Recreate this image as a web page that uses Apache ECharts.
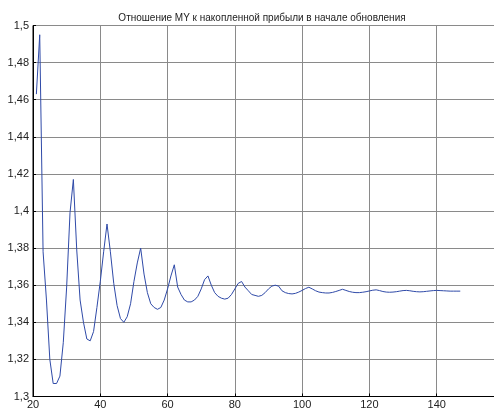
<!DOCTYPE html>
<html>
<head>
<meta charset="utf-8">
<script src="https://cdn.jsdelivr.net/npm/echarts@6/dist/echarts.min.js"></script>
<style>html,body{margin:0;padding:0;background:#fff;}#c{width:494px;height:412px;}</style>
</head>
<body>
<div id="c"></div>
<script>
const titleText = 'Отношение MY к накопленной прибыли в начале обновления';
const xStart = 21;
const values = [
  1.463, 1.495, 1.378, 1.352, 1.320, 1.307, 1.307, 1.311, 1.329, 1.359,
  1.399, 1.417, 1.379, 1.352, 1.340, 1.331, 1.330, 1.335, 1.348, 1.362,
  1.378, 1.393, 1.378, 1.361, 1.349, 1.342, 1.340, 1.343, 1.350, 1.362,
  1.372, 1.380, 1.366, 1.356, 1.350, 1.348, 1.347, 1.348, 1.352, 1.358,
  1.365, 1.371, 1.359, 1.355, 1.352, 1.351, 1.351, 1.352, 1.354, 1.358,
  1.363, 1.365, 1.360, 1.356, 1.354, 1.353, 1.3525, 1.353, 1.355, 1.358,
  1.361, 1.362, 1.359, 1.357, 1.355, 1.3545, 1.354, 1.3545, 1.356, 1.358,
  1.3595, 1.360, 1.3595, 1.357, 1.356, 1.3555, 1.3553, 1.3556, 1.3563, 1.3572,
  1.3582, 1.3589, 1.358, 1.357, 1.3563, 1.356, 1.3558, 1.3558, 1.3561, 1.3566,
  1.3572, 1.3578, 1.3572, 1.3566, 1.3562, 1.356, 1.356, 1.3562, 1.3565, 1.3569,
  1.3573, 1.3575, 1.3571, 1.3566, 1.3563, 1.3562, 1.3563, 1.3565, 1.3568, 1.3571,
  1.3572, 1.357, 1.3567, 1.3565, 1.3564, 1.3565, 1.3567, 1.3569, 1.3571, 1.3572,
  1.3571, 1.357, 1.3569, 1.3568, 1.3568, 1.3568, 1.3568
];
const xTicks = [20, 40, 60, 80, 100, 120, 140];
const yTicks = [1.3, 1.32, 1.34, 1.36, 1.38, 1.4, 1.42, 1.44, 1.46, 1.48, 1.5];

const data = values.map((v, i) => [xStart + i, v]);
const fmt = v => String(+v.toFixed(2)).replace('.', ',');

const chart = echarts.init(document.getElementById('c'), null, {renderer: 'canvas'});
chart.setOption({
  animation: false,
  backgroundColor: '#fff',
  title: {
    text: titleText,
    left: 257, top: 8, textAlign: 'center',
    textStyle: {fontFamily: 'Liberation Sans, Arial', fontSize: 10, fontWeight: 'normal', color: '#222'}
  },
  grid: {left: 33, top: 25.5, width: 471, bottom: 15.5, show: true, borderColor: '#000', borderWidth: 1,
         containLabel: false, outerBoundsMode: 'none'},
  xAxis: {
    type: 'value', min: 20, max: 160, interval: 20,
    axisLine: {show: true, lineStyle: {color: '#000', width: 1}},
    axisTick: {show: true, inside: true, length: 3, lineStyle: {color: '#000'}},
    axisLabel: {
      margin: 3, color: '#222', fontFamily: 'Liberation Sans, Arial', fontSize: 11,
      formatter: v => xTicks.indexOf(v) >= 0 ? String(v) : ''
    },
    splitLine: {show: true, lineStyle: {color: '#8a8a8a', width: 1}}
  },
  yAxis: {
    type: 'value', min: 1.3, max: 1.5, interval: 0.02,
    axisLine: {show: true, lineStyle: {color: '#000', width: 1}},
    axisTick: {show: true, inside: true, length: 3, lineStyle: {color: '#000'}},
    axisLabel: {
      margin: 4, color: '#222', fontFamily: 'Liberation Sans, Arial', fontSize: 11,
      formatter: v => yTicks.some(t => Math.abs(t - v) < 1e-9) ? fmt(v) : ''
    },
    splitLine: {show: true, lineStyle: {color: '#8a8a8a', width: 1}}
  },
  series: [{
    type: 'line', data: data, showSymbol: false, symbol: 'none',
    lineStyle: {color: '#2f4aa8', width: 1}, smooth: false
  }]
});
</script>
</body>
</html>
